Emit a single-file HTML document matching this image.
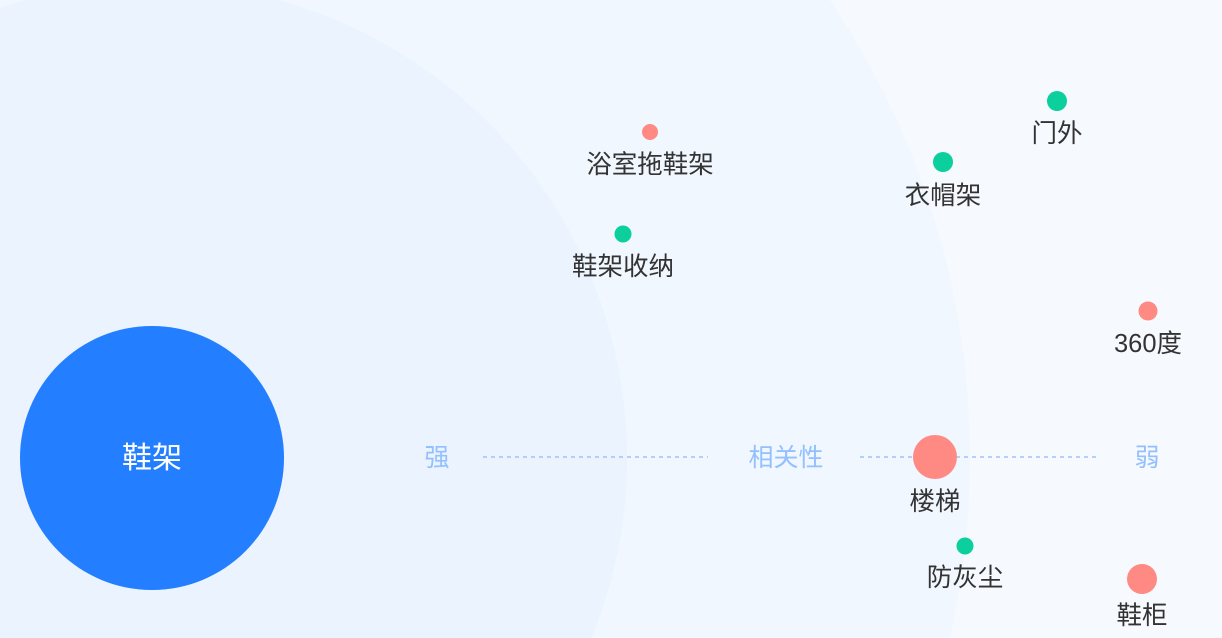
<!DOCTYPE html>
<html><head><meta charset="utf-8"><style>
html,body{margin:0;padding:0;width:1222px;height:638px;overflow:hidden;background:#f6f9fe}
svg{display:block}
svg text{font-family:"Liberation Sans","Noto Sans CJK SC",sans-serif}
</style></head><body>
<svg width="1222" height="638" viewBox="0 0 1222 638" xmlns="http://www.w3.org/2000/svg">
<rect width="1222" height="638" fill="#f6f9fe"/>
<circle cx="152" cy="458" r="818" fill="#f0f7ff"/>
<circle cx="152" cy="458" r="475" fill="#eaf3fe"/>
<circle cx="152" cy="458" r="132" fill="#237fff"/>
<text x="152" y="468" font-size="30" fill="#fff" text-anchor="middle">鞋架</text>
<g stroke="#9cc4fb" stroke-width="1.5" stroke-dasharray="4,4">
<line x1="483" y1="457" x2="708" y2="457"/>
<line x1="860" y1="457" x2="1100" y2="457"/>
</g>
<g font-size="25" fill="#94c0ff" text-anchor="middle">
<text x="437" y="466">强</text>
<text x="786" y="466">相关性</text>
<text x="1147" y="466">弱</text>
</g>
<g fill="#ff8a84">
<circle cx="650" cy="132" r="8"/>
<circle cx="1148" cy="311" r="9.5"/>
<circle cx="935" cy="457" r="22"/>
<circle cx="1142" cy="579" r="15"/>
</g>
<g fill="#0ccf9e">
<circle cx="623" cy="234" r="8.5"/>
<circle cx="943" cy="162" r="10"/>
<circle cx="1057" cy="101" r="10"/>
<circle cx="965" cy="546" r="8.5"/>
</g>
<g font-size="25.5" fill="#333" text-anchor="middle">
<text x="650" y="173">浴室拖鞋架</text>
<text x="623" y="275">鞋架收纳</text>
<text x="943" y="204">衣帽架</text>
<text x="1057" y="142">门外</text>
<text x="1148" y="352">360度</text>
<text x="935" y="510">楼梯</text>
<text x="965" y="586">防灰尘</text>
<text x="1142" y="624">鞋柜</text>
</g>
</svg>
</body></html>
